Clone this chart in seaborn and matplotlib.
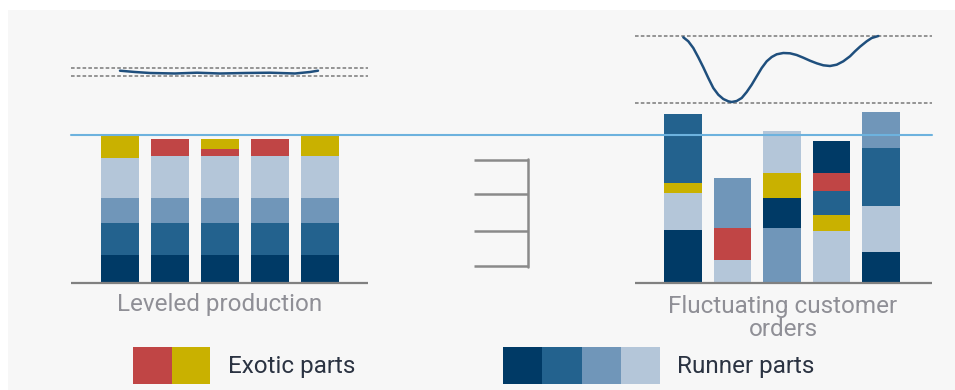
import matplotlib
matplotlib.use("Agg")
import matplotlib.pyplot as plt
import seaborn as sns
import pandas as pd
from matplotlib.patches import Rectangle
from matplotlib import font_manager

# ---------------- data ----------------
part_colors = {
    "runner1": "#003a66",
    "runner2": "#23628e",
    "runner3": "#7096b9",
    "runner4": "#b4c6d9",
    "exotic_red": "#c04545",
    "exotic_yellow": "#c9b100",
}

leveled_parts = [
    ["runner1", "runner2", "runner3", "runner4", "exotic_yellow"],
    ["runner1", "runner2", "runner3", "runner4", "exotic_red"],
    ["runner1", "runner2", "runner3", "runner4", "exotic_red", "exotic_yellow"],
    ["runner1", "runner2", "runner3", "runner4", "exotic_red"],
    ["runner1", "runner2", "runner3", "runner4", "exotic_yellow"],
]
leveled_sizes = [
    [28, 32, 25, 40, 22],
    [28, 32, 25, 42, 17],
    [28, 32, 25, 42, 7, 10],
    [28, 32, 25, 42, 17],
    [28, 32, 25, 42, 20],
]

orders_parts = [
    ["runner1", "runner4", "exotic_yellow", "runner2"],
    ["runner4", "exotic_red", "runner3"],
    ["runner3", "runner1", "exotic_yellow", "runner4"],
    ["runner4", "exotic_yellow", "runner2", "exotic_red", "runner1"],
    ["runner1", "runner4", "runner2", "runner3"],
]
orders_sizes = [
    [53, 37, 10, 69],
    [23, 32, 50],
    [55, 30, 25, 42],
    [52, 16, 24, 18, 32],
    [31, 46, 58, 36],
]

capacity_level = 148

leveled_band = [207, 215]
leveled_wave_t = [120, 135, 150, 175, 197, 220, 245, 270, 295, 310, 318]
leveled_wave_v = [212.3, 211, 210, 209.5, 210.3, 209.5, 210, 210.3, 209.5, 211, 212.3]

orders_band = [180.5, 247]
orders_wave_t = [683.3, 688.3, 693.3, 698.3, 703.3, 708.3, 713.3, 718.3, 723.3, 728.3,
                 731.7, 736.7, 741.7, 746.7, 751.7, 756.7, 761.7, 766.7, 771.7, 776.7,
                 783.3, 790, 796.7, 803.3, 810, 816.7, 823.3, 830, 836.7, 843.3,
                 850, 855, 860, 866.7, 871.7, 878.3]
orders_wave_v = [245.7, 241.7, 235, 225.7, 215.7, 205, 195, 188.3, 184, 181.7,
                 181, 182, 185, 191, 198.3, 206.7, 215, 221.7, 226, 228.7,
                 230, 229.7, 228, 225.3, 222.3, 219.7, 217.7, 217, 218.3, 221.7,
                 226.7, 231.7, 236.3, 241.7, 245, 247]

bracket_levels = [17, 52, 89, 123]

panel_labels = ["Leveled production", "Fluctuating customer\norders"]
legend_labels = ["Exotic parts", "Runner parts"]
legend_groups = [["exotic_red", "exotic_yellow"], ["runner1", "runner2", "runner3", "runner4"]]

# ---------------- style ----------------
sns.set_theme(style="white")
avail = {f.name for f in font_manager.fontManager.ttflist}
fam = [f for f in ["Roboto", "Liberation Sans", "DejaVu Sans"] if f in avail]
plt.rcParams["font.family"] = fam

GRAY = "#8a8a8a"
BG = "#f7f7f7"

fig = plt.figure(figsize=(9.55, 3.9), dpi=100, facecolor="white")
ax = fig.add_axes([0, 0, 1, 1])
ax.set_xlim(0, 955)
ax.set_ylim(-107, 283)
ax.axis("off")

# panel background
ax.add_patch(Rectangle((8, -107), 947, 380, facecolor=BG, edgecolor="none", zorder=0))


def stacked(centers, parts, sizes, width):
    for c, pl, sl in zip(centers, parts, sizes):
        bottom = 0
        for p, s in zip(pl, sl):
            ax.bar(c, s, width=width, bottom=bottom, color=part_colors[p],
                   linewidth=0, zorder=2)
            bottom += s


left_centers = [120 + 50 * i for i in range(len(leveled_sizes))]
right_centers = [683 + 49.5 * i for i in range(len(orders_sizes))]
stacked(left_centers, leveled_parts, leveled_sizes, 38)
stacked(right_centers, orders_parts, orders_sizes, 37.5)

# baselines
ax.plot([71, 368], [0, 0], color="#808080", lw=1.6, zorder=3, solid_capstyle="butt")
ax.plot([635, 932], [0, 0], color="#808080", lw=1.6, zorder=3, solid_capstyle="butt")

# capacity line
ax.axhline(capacity_level, xmin=71 / 955, xmax=932 / 955, color="#6db2de", lw=1.5, zorder=4)

# dotted bands
for lvl in leveled_band:
    ax.plot([71, 368], [lvl, lvl], color="#8c8c8c", lw=1.3, dashes=(2, 1.2), zorder=3)
for lvl in orders_band:
    ax.plot([635, 932], [lvl, lvl], color="#8c8c8c", lw=1.3, dashes=(2, 1.2), zorder=3)

# waves
sns.lineplot(x=leveled_wave_t, y=leveled_wave_v, ax=ax, color="#1f4f7d", lw=1.8,
             sort=False, zorder=5)
sns.lineplot(x=orders_wave_t, y=orders_wave_v, ax=ax, color="#1f4f7d", lw=1.8,
             sort=False, zorder=5)
for l in ax.lines[-2:]:
    l.set_solid_joinstyle("round")
    l.set_solid_capstyle("round")

# bracket
for lvl in bracket_levels:
    ax.plot([474, 528], [lvl, lvl], color=GRAY, lw=1.8, zorder=3, solid_capstyle="butt")
ax.plot([528, 528], [bracket_levels[0] - 0.6, bracket_levels[-1] + 0.6], color=GRAY, lw=1.8, zorder=3)

# panel labels
ax.text(220, -21, panel_labels[0], ha="center", va="center", fontsize=17.5, color="#8f8f96")
ax.text(783, -35, panel_labels[1], ha="center", va="center", fontsize=17.5, color="#8f8f96",
        linespacing=1.05)

# legend
lx = [133, 503]
tx = [228, 677]
sw = [38.5, 39.25]
for g, x0, w, t, lab in zip(legend_groups, lx, sw, tx, legend_labels):
    for i, p in enumerate(g):
        ax.add_patch(Rectangle((x0 + i * w, -101), w, 37, facecolor=part_colors[p],
                               edgecolor="none", zorder=2))
    ax.text(t, -83, lab, ha="left", va="center", fontsize=17.5, color="#2b3342",
            fontweight="normal")

fig.savefig("out.png", dpi=100, facecolor="white")
